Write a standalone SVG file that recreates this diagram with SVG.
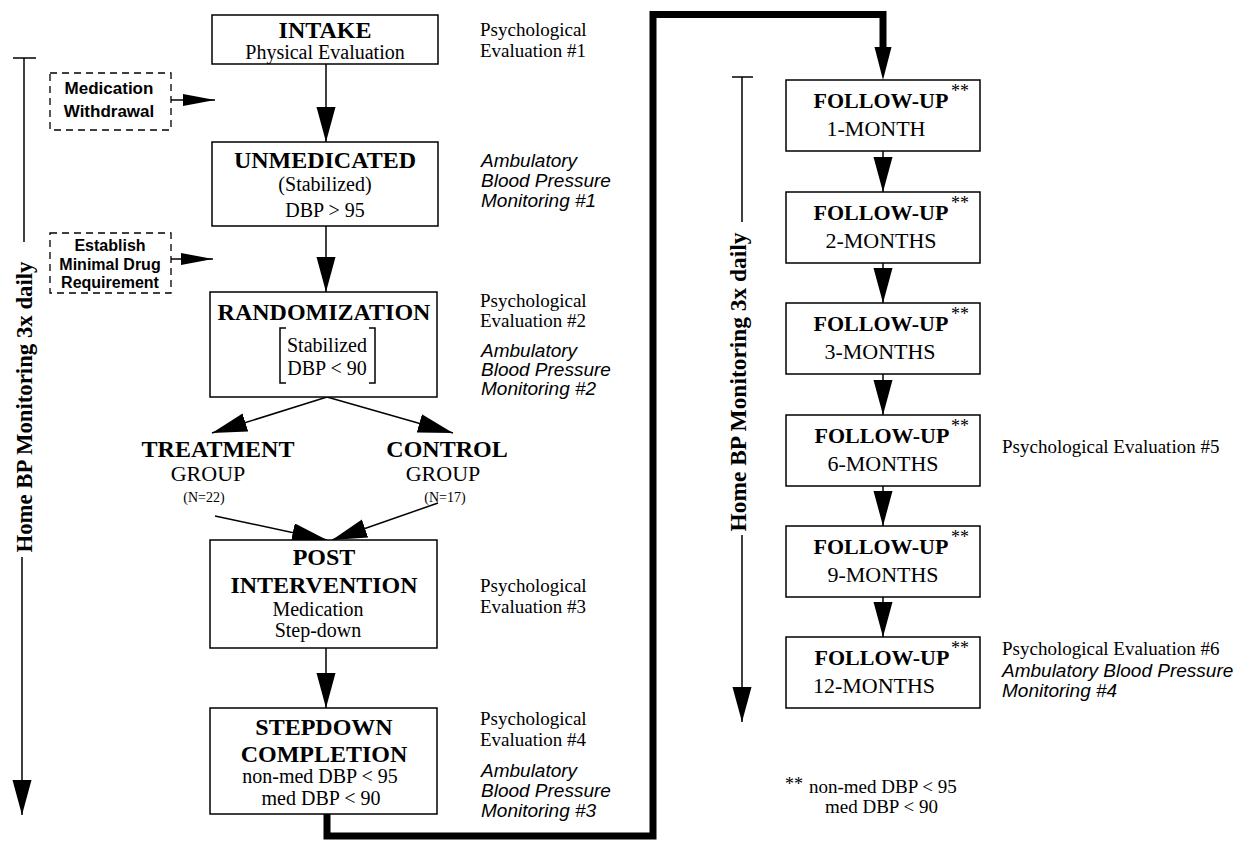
<svg xmlns="http://www.w3.org/2000/svg" width="1241" height="842" viewBox="0 0 1241 842">
<defs>
<style>
.box{fill:#fff;stroke:#000;stroke-width:1.5}
.dbox{fill:#fff;stroke:#000;stroke-width:1.3;stroke-dasharray:7,5}
.ln{fill:none;stroke:#000;stroke-width:1.5}
.thick{fill:none;stroke:#000;stroke-width:7;stroke-linejoin:miter}
.h{font-family:"Liberation Serif",serif;font-weight:bold;font-size:24px;text-anchor:middle}
.fh{font-family:"Liberation Serif",serif;font-weight:bold;font-size:22px;text-anchor:middle}
.t{font-family:"Liberation Serif",serif;font-size:20px;text-anchor:middle}
.fm{font-family:"Liberation Serif",serif;font-size:22px;text-anchor:middle}
.n{font-family:"Liberation Serif",serif;font-size:14px;text-anchor:middle}
.ast{font-family:"Liberation Serif",serif;font-size:18px}
.side{font-family:"Liberation Serif",serif;font-size:19px}
.amb{font-family:"Liberation Sans",sans-serif;font-style:italic;font-size:19px}
.db{font-family:"Liberation Sans",sans-serif;font-weight:bold;text-anchor:middle}
.rot{font-family:"Liberation Serif",serif;font-weight:bold;font-size:24px;text-anchor:middle}
</style>
<marker id="ah" markerUnits="userSpaceOnUse" markerWidth="36" markerHeight="20" refX="35" refY="9.5" orient="auto">
<path d="M0,0 L35,9.5 L0,19 z" fill="#000"/>
</marker>
<marker id="ahs" markerUnits="userSpaceOnUse" markerWidth="33" markerHeight="13" refX="32" refY="6" orient="auto">
<path d="M0,0 L32,6 L0,12 z" fill="#000"/>
</marker>
<marker id="aht" markerUnits="userSpaceOnUse" markerWidth="34" markerHeight="18" refX="0" refY="8.5" orient="auto">
<path d="M0,0 L33,8.5 L0,17 z" fill="#000"/>
</marker>
</defs>
<rect width="1241" height="842" fill="#fff"/>

<g id="connectors">
<line class="ln" x1="326" y1="64" x2="326" y2="142" marker-end="url(#ah)"/>
<line class="ln" x1="326" y1="226" x2="326" y2="292" marker-end="url(#ah)"/>
<line class="ln" x1="327" y1="397" x2="212" y2="433" marker-end="url(#ah)"/>
<line class="ln" x1="327" y1="397" x2="453" y2="433" marker-end="url(#ah)"/>
<line class="ln" x1="215" y1="516" x2="327" y2="540" marker-end="url(#ah)"/>
<line class="ln" x1="438" y1="503" x2="332" y2="540" marker-end="url(#ah)"/>
<line class="ln" x1="326" y1="648" x2="326" y2="708" marker-end="url(#ah)"/>
<line class="ln" x1="171" y1="100" x2="215" y2="100" marker-end="url(#ahs)"/>
<line class="ln" x1="171" y1="259" x2="213" y2="259" marker-end="url(#ahs)"/>
<path class="thick" d="M327,814 V836 H653 V14.5 H883 V47" marker-end="url(#aht)"/>
<line class="ln" x1="883" y1="151" x2="883" y2="192" marker-end="url(#ah)"/>
<line class="ln" x1="883" y1="263" x2="883" y2="303" marker-end="url(#ah)"/>
<line class="ln" x1="883" y1="374" x2="883" y2="415" marker-end="url(#ah)"/>
<line class="ln" x1="883" y1="486" x2="883" y2="526" marker-end="url(#ah)"/>
<line class="ln" x1="883" y1="597" x2="883" y2="637" marker-end="url(#ah)"/>
</g>

<g id="home-bp-left">
<line class="ln" x1="13" y1="58" x2="36" y2="58"/>
<line class="ln" x1="24" y1="58" x2="24" y2="242"/>
<text class="rot" transform="translate(32,407) rotate(-90)" textLength="291" lengthAdjust="spacingAndGlyphs">Home BP Monitoring 3x daily</text>
<line class="ln" x1="22" y1="557" x2="22" y2="815" marker-end="url(#ah)"/>
</g>

<g id="home-bp-right">
<line class="ln" x1="732" y1="77" x2="753" y2="77"/>
<line class="ln" x1="742" y1="77" x2="742" y2="222"/>
<text class="rot" transform="translate(746,382) rotate(-90)" textLength="299" lengthAdjust="spacingAndGlyphs">Home BP Monitoring 3x daily</text>
<line class="ln" x1="742" y1="535" x2="742" y2="722" marker-end="url(#ah)"/>
</g>

<g id="medication-withdrawal">
<rect class="dbox" x="50" y="73" width="121" height="57"/>
<text class="db" x="109" y="94" font-size="17">Medication</text>
<text class="db" x="109" y="117" font-size="17">Withdrawal</text>
</g>

<g id="establish">
<rect class="dbox" x="50" y="233" width="121" height="60"/>
<text class="db" x="110" y="251" font-size="16">Establish</text>
<text class="db" x="110" y="270" font-size="16">Minimal Drug</text>
<text class="db" x="110" y="288" font-size="16">Requirement</text>
</g>

<g id="intake">
<rect class="box" x="212" y="15" width="226" height="49"/>
<text class="h" x="325" y="38">INTAKE</text>
<text class="t" x="325" y="59">Physical Evaluation</text>
</g>

<g id="unmedicated">
<rect class="box" x="212" y="142" width="226" height="84"/>
<text class="h" x="325" y="168">UNMEDICATED</text>
<text class="t" x="325" y="191">(Stabilized)</text>
<text class="t" x="325" y="217">DBP &gt; 95</text>
</g>

<g id="randomization">
<rect class="box" x="210" y="292" width="227" height="105"/>
<text class="h" x="324" y="320">RANDOMIZATION</text>
<path class="ln" d="M286,328 H280 V383 H286"/>
<path class="ln" d="M369,328 H375 V383 H369"/>
<text class="t" x="327" y="352">Stabilized</text>
<text class="t" x="327" y="375">DBP &lt; 90</text>
</g>

<g id="treatment">
<text class="h" x="218" y="457">TREATMENT</text>
<text class="fm" x="208" y="481">GROUP</text>
<text class="n" x="204" y="502">(N=22)</text>
</g>

<g id="control">
<text class="h" x="447" y="457">CONTROL</text>
<text class="fm" x="443" y="481">GROUP</text>
<text class="n" x="445" y="502">(N=17)</text>
</g>

<g id="post-intervention">
<rect class="box" x="210" y="540" width="227" height="108"/>
<text class="h" x="324" y="565">POST</text>
<text class="h" x="324" y="593">INTERVENTION</text>
<text class="t" x="318" y="616">Medication</text>
<text class="t" x="318" y="637">Step-down</text>
</g>

<g id="stepdown">
<rect class="box" x="210" y="708" width="227" height="106"/>
<text class="h" x="324" y="735">STEPDOWN</text>
<text class="h" x="324" y="762">COMPLETION</text>
<text class="t" x="320" y="783">non-med DBP &lt; 95</text>
<text class="t" x="321" y="805">med DBP &lt; 90</text>
</g>

<g id="side-notes-left">
<text class="side" x="480" y="36">Psychological</text>
<text class="side" x="480" y="57">Evaluation #1</text>
<text class="amb" x="481" y="167">Ambulatory</text>
<text class="amb" x="481" y="187">Blood Pressure</text>
<text class="amb" x="481" y="207">Monitoring #1</text>
<text class="side" x="480" y="307">Psychological</text>
<text class="side" x="480" y="327">Evaluation #2</text>
<text class="amb" x="481" y="357">Ambulatory</text>
<text class="amb" x="481" y="376">Blood Pressure</text>
<text class="amb" x="481" y="395">Monitoring #2</text>
<text class="side" x="480" y="592">Psychological</text>
<text class="side" x="480" y="613">Evaluation #3</text>
<text class="side" x="480" y="725">Psychological</text>
<text class="side" x="480" y="746">Evaluation #4</text>
<text class="amb" x="481" y="777">Ambulatory</text>
<text class="amb" x="481" y="797">Blood Pressure</text>
<text class="amb" x="481" y="817">Monitoring #3</text>
</g>

<g id="followup-1">
<rect class="box" x="786" y="80" width="194" height="71"/>
<text class="fh" x="881" y="108">FOLLOW-UP</text>
<text class="ast" x="951" y="97">**</text>
<text class="fm" x="876" y="136">1-MONTH</text>
</g>
<g id="followup-2">
<rect class="box" x="786" y="192" width="194" height="71"/>
<text class="fh" x="881" y="220">FOLLOW-UP</text>
<text class="ast" x="951" y="209">**</text>
<text class="fm" x="881" y="248">2-MONTHS</text>
</g>
<g id="followup-3">
<rect class="box" x="786" y="303" width="194" height="71"/>
<text class="fh" x="881" y="331">FOLLOW-UP</text>
<text class="ast" x="951" y="320">**</text>
<text class="fm" x="880" y="359">3-MONTHS</text>
</g>
<g id="followup-6">
<rect class="box" x="786" y="415" width="194" height="71"/>
<text class="fh" x="882" y="443">FOLLOW-UP</text>
<text class="ast" x="951" y="432">**</text>
<text class="fm" x="883" y="471">6-MONTHS</text>
</g>
<g id="followup-9">
<rect class="box" x="786" y="526" width="194" height="71"/>
<text class="fh" x="881" y="554">FOLLOW-UP</text>
<text class="ast" x="951" y="543">**</text>
<text class="fm" x="883" y="582">9-MONTHS</text>
</g>
<g id="followup-12">
<rect class="box" x="786" y="637" width="194" height="71"/>
<text class="fh" x="882" y="665">FOLLOW-UP</text>
<text class="ast" x="951" y="654">**</text>
<text class="fm" x="874" y="693">12-MONTHS</text>
</g>

<g id="side-notes-right">
<text class="side" x="1002" y="453">Psychological Evaluation #5</text>
<text class="side" x="1002" y="655">Psychological Evaluation #6</text>
<text class="amb" x="1002" y="677">Ambulatory Blood Pressure</text>
<text class="amb" x="1002" y="697">Monitoring #4</text>
</g>

<g id="footnote">
<text class="ast" x="785" y="790">**</text>
<text class="side" x="809" y="793" font-size="20">non-med DBP &lt; 95</text>
<text class="side" x="825" y="813" font-size="20">med DBP &lt; 90</text>
</g>
</svg>
